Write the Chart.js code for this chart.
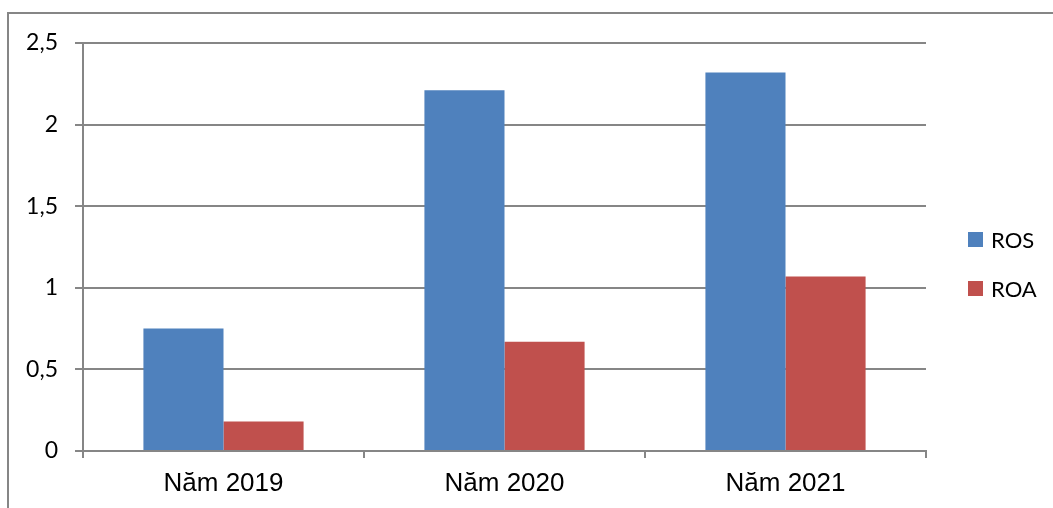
<!DOCTYPE html>
<html>
<head>
<meta charset="utf-8">
<script src="https://cdn.jsdelivr.net/npm/chart.js@4/dist/chart.umd.min.js"></script>
<style>
  html, body { margin: 0; padding: 0; background: #fff; }
  #wrap { width: 1053px; height: 508px; position: relative; }
</style>
</head>
<body>
<div id="wrap"><canvas id="chart"></canvas></div>
<script>
// Data
const categories = ['Năm 2019', 'Năm 2020', 'Năm 2021'];
const rosValues = [0.75, 2.21, 2.32];
const roaValues = [0.18, 0.67, 1.07];
const yTicks = [0, 0.5, 1, 1.5, 2, 2.5];

const GRID = '#868686';

// Outer frame (open on right and bottom, like the source crop)
const framePlugin = {
  id: 'frame',
  beforeDraw(chart) {
    const ctx = chart.ctx;
    ctx.save();
    ctx.strokeStyle = GRID;
    ctx.lineWidth = 2;
    ctx.beginPath();
    ctx.moveTo(8, 520);
    ctx.lineTo(8, 13);
    ctx.lineTo(1060, 13);
    ctx.stroke();
    ctx.restore();
  }
};

// Legend at right, boxes + labels
const legendPlugin = {
  id: 'sideLegend',
  afterDraw(chart) {
    const ctx = chart.ctx;
    const a = chart.chartArea;
    ctx.save();
    ctx.font = '22px Lato, "Liberation Sans", sans-serif';
    ctx.textBaseline = 'middle';
    chart.data.datasets.forEach((ds, i) => {
      const y = 240 + i * 49;
      ctx.fillStyle = ds.backgroundColor;
      ctx.fillRect(a.right + 42, y - 8, 15, 15);
      ctx.fillStyle = '#000';
      ctx.fillText(ds.label, a.right + 65, y + 1);
    });
    ctx.restore();
  }
};

new Chart(document.getElementById('chart'), {
  type: 'bar',
  data: {
    labels: categories,
    datasets: [
      { label: 'ROS', data: rosValues, backgroundColor: '#4F81BD', borderWidth: 0 },
      { label: 'ROA', data: roaValues, backgroundColor: '#C0504D', borderWidth: 0 }
    ]
  },
  options: {
    responsive: true,
    maintainAspectRatio: false,
    animation: false,
    layout: { padding: { left: 0, right: 127, top: 43, bottom: 0 } },
    categoryPercentage: 0.57,
    barPercentage: 1,
    plugins: { legend: { display: false }, tooltip: { enabled: false } },
    scales: {
      x: {
        grid: { display: true, drawOnChartArea: false, drawTicks: true, tickLength: 7, color: GRID, lineWidth: 2, offset: true },
        border: { display: true, color: GRID, width: 2 },
        ticks: { color: '#000', padding: 10, font: { family: '"Liberation Sans", Arial, sans-serif', size: 26 } },
        afterFit(scale) { scale.height = 57; }
      },
      y: {
        min: 0,
        max: 2.5,
        afterBuildTicks(scale) { scale.ticks = yTicks.map(v => ({ value: v })); },
        grid: { color: GRID, lineWidth: 2, tickLength: 8 },
        border: { display: true, color: GRID, width: 2 },
        ticks: {
          color: '#000',
          padding: 17,
          font: { family: 'Lato, "Liberation Sans", sans-serif', size: 23 },
          callback: v => String(v).replace('.', ',')
        },
        afterFit(scale) { scale.width = 83; }
      }
    }
  },
  plugins: [framePlugin, legendPlugin]
});
</script>
</body>
</html>
